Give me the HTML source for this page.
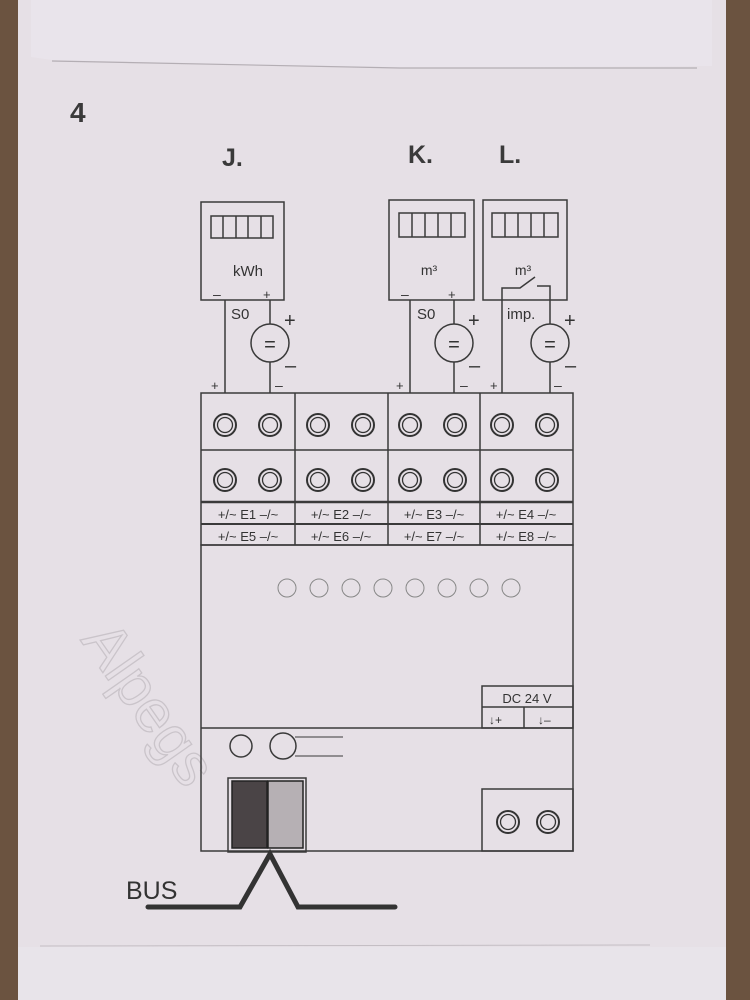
<!DOCTYPE html>
<html><head><meta charset="utf-8"><style>
html,body{margin:0;padding:0;width:750px;height:1000px;overflow:hidden;background:#6b5340}
</style></head><body>
<svg width="750" height="1000" viewBox="0 0 750 1000" xmlns="http://www.w3.org/2000/svg" font-family="Liberation Sans, sans-serif">
<rect x="0" y="0" width="750" height="1000" fill="#6b5340"/>
<rect x="18" y="0" width="710" height="1000" fill="#e6e0e6"/>
<path d="M31 0 L712 0 L712 66 L400 68 L52 60 L31 57 Z" fill="#e9e4eb"/>
<path d="M52 61 L400 68 L697 68" stroke="#b4aeb4" stroke-width="1.2" fill="none"/>
<line x1="40" y1="946" x2="650" y2="945" stroke="#c4bec4" stroke-width="1"/>
<rect x="12" y="947" width="720" height="53" fill="#e8e4ea"/>
<rect x="726" y="0" width="24" height="1000" fill="#6b5340"/>
<rect x="0" y="0" width="18" height="1000" fill="#6b5340"/>

<g fill="#3a3a3a" font-weight="bold">
<text x="70" y="122" font-size="28">4</text>
<text x="222" y="166" font-size="25">J.</text>
<text x="408" y="163" font-size="25">K.</text>
<text x="499" y="163" font-size="25">L.</text>
</g>

<text x="80" y="640" font-size="60" fill="none" stroke="#cac4ca" stroke-width="1.3" transform="rotate(55 80 640)">Alpegs</text>

<g stroke="#3a3a3a" stroke-width="1.5" fill="none">
<rect x="201" y="202" width="83" height="98"/>
<rect x="211" y="216" width="62" height="22"/>
<line x1="223" y1="216" x2="223" y2="238"/><line x1="236" y1="216" x2="236" y2="238"/><line x1="248" y1="216" x2="248" y2="238"/><line x1="261" y1="216" x2="261" y2="238"/>
<rect x="389" y="200" width="85" height="100"/>
<rect x="399" y="213" width="66" height="24"/>
<line x1="412" y1="213" x2="412" y2="237"/><line x1="425" y1="213" x2="425" y2="237"/><line x1="438" y1="213" x2="438" y2="237"/><line x1="451" y1="213" x2="451" y2="237"/>
<rect x="483" y="200" width="84" height="100"/>
<rect x="492" y="213" width="66" height="24"/>
<line x1="505" y1="213" x2="505" y2="237"/><line x1="518" y1="213" x2="518" y2="237"/><line x1="531" y1="213" x2="531" y2="237"/><line x1="544" y1="213" x2="544" y2="237"/>
<line x1="225" y1="300" x2="225" y2="393"/>
<line x1="270" y1="300" x2="270" y2="324"/><circle cx="270" cy="343" r="19"/><line x1="270" y1="362" x2="270" y2="393"/>
<line x1="410" y1="300" x2="410" y2="393"/>
<line x1="454" y1="300" x2="454" y2="324"/><circle cx="454" cy="343" r="19"/><line x1="454" y1="362" x2="454" y2="393"/>
<path d="M502 393 L502 288 L520 288 L535 277"/>
<path d="M537 286 L550 286 L550 324"/><circle cx="550" cy="343" r="19"/><line x1="550" y1="362" x2="550" y2="393"/>
<rect x="201" y="393" width="372" height="152"/>
<line x1="201" y1="450" x2="573" y2="450"/>
<line x1="201" y1="502" x2="573" y2="502" stroke-width="2.5"/>
<line x1="201" y1="524" x2="573" y2="524" stroke-width="2"/>
<line x1="295" y1="393" x2="295" y2="545"/><line x1="388" y1="393" x2="388" y2="545"/><line x1="480" y1="393" x2="480" y2="545"/>
<rect x="201" y="545" width="372" height="306"/>
<line x1="201" y1="728" x2="573" y2="728"/>
<rect x="482" y="686" width="91" height="42"/>
<line x1="482" y1="707" x2="573" y2="707"/><line x1="524" y1="707" x2="524" y2="728"/>
<rect x="482" y="789" width="91" height="62"/>
<g stroke="#888" stroke-width="1">
<circle cx="287" cy="588" r="9"/><circle cx="319" cy="588" r="9"/><circle cx="351" cy="588" r="9"/><circle cx="383" cy="588" r="9"/><circle cx="415" cy="588" r="9"/><circle cx="447" cy="588" r="9"/><circle cx="479" cy="588" r="9"/><circle cx="511" cy="588" r="9"/>
</g>
<circle cx="241" cy="746" r="11"/><circle cx="283" cy="746" r="13"/>
<line x1="295" y1="737" x2="343" y2="737" stroke-width="1"/><line x1="295" y1="756" x2="343" y2="756" stroke-width="1"/>
<rect x="228" y="778" width="78" height="74"/>
</g>
<rect x="232" y="781" width="35" height="67" fill="#4a4446" stroke="#222" stroke-width="1.5"/>
<rect x="268" y="781" width="35" height="67" fill="#b6b0b4" stroke="#222" stroke-width="1.5"/>

<g stroke="#333" stroke-width="2" fill="none">
<circle cx="225" cy="425" r="11"/><circle cx="270" cy="425" r="11"/><circle cx="318" cy="425" r="11"/><circle cx="363" cy="425" r="11"/><circle cx="410" cy="425" r="11"/><circle cx="455" cy="425" r="11"/><circle cx="502" cy="425" r="11"/><circle cx="547" cy="425" r="11"/>
<circle cx="225" cy="480" r="11"/><circle cx="270" cy="480" r="11"/><circle cx="318" cy="480" r="11"/><circle cx="363" cy="480" r="11"/><circle cx="410" cy="480" r="11"/><circle cx="455" cy="480" r="11"/><circle cx="502" cy="480" r="11"/><circle cx="547" cy="480" r="11"/>
<circle cx="508" cy="822" r="11"/><circle cx="548" cy="822" r="11"/>
</g>
<g stroke="#333" stroke-width="1.3" fill="none">
<circle cx="225" cy="425" r="7.5"/><circle cx="270" cy="425" r="7.5"/><circle cx="318" cy="425" r="7.5"/><circle cx="363" cy="425" r="7.5"/><circle cx="410" cy="425" r="7.5"/><circle cx="455" cy="425" r="7.5"/><circle cx="502" cy="425" r="7.5"/><circle cx="547" cy="425" r="7.5"/>
<circle cx="225" cy="480" r="7.5"/><circle cx="270" cy="480" r="7.5"/><circle cx="318" cy="480" r="7.5"/><circle cx="363" cy="480" r="7.5"/><circle cx="410" cy="480" r="7.5"/><circle cx="455" cy="480" r="7.5"/><circle cx="502" cy="480" r="7.5"/><circle cx="547" cy="480" r="7.5"/>
<circle cx="508" cy="822" r="7.5"/><circle cx="548" cy="822" r="7.5"/>
</g>

<path d="M148 907 L240 907 L270 854 L298 907 L395 907" stroke="#333" stroke-width="5" fill="none" stroke-linejoin="miter" stroke-linecap="round"/>

<g fill="#333">
<text x="248" y="276" font-size="15" text-anchor="middle">kWh</text>
<text x="429" y="275" font-size="14" text-anchor="middle">m³</text>
<text x="523" y="275" font-size="14" text-anchor="middle">m³</text>
<text x="231" y="319" font-size="15">S0</text>
<text x="417" y="319" font-size="15">S0</text>
<text x="507" y="319" font-size="15">imp.</text>
<text x="213" y="299" font-size="14">–</text><text x="263" y="299" font-size="13">+</text>
<text x="401" y="299" font-size="14">–</text><text x="448" y="299" font-size="13">+</text>
<text x="284" y="327" font-size="20">+</text><text x="285" y="372" font-size="20">–</text>
<text x="468" y="327" font-size="20">+</text><text x="469" y="372" font-size="20">–</text>
<text x="564" y="327" font-size="20">+</text><text x="565" y="372" font-size="20">–</text>
<text x="211" y="390" font-size="13">+</text><text x="275" y="390" font-size="14">–</text>
<text x="396" y="390" font-size="13">+</text><text x="460" y="390" font-size="14">–</text>
<text x="490" y="390" font-size="13">+</text><text x="554" y="390" font-size="14">–</text>
<text x="270" y="351" font-size="20" text-anchor="middle">=</text>
<text x="454" y="351" font-size="20" text-anchor="middle">=</text>
<text x="550" y="351" font-size="20" text-anchor="middle">=</text>
<g font-size="13" text-anchor="middle">
<text x="248" y="519">+/~ E1 –/~</text><text x="341" y="519">+/~ E2 –/~</text><text x="434" y="519">+/~ E3 –/~</text><text x="526" y="519">+/~ E4 –/~</text>
<text x="248" y="541">+/~ E5 –/~</text><text x="341" y="541">+/~ E6 –/~</text><text x="434" y="541">+/~ E7 –/~</text><text x="526" y="541">+/~ E8 –/~</text>
</g>
<text x="527" y="703" font-size="13" text-anchor="middle">DC 24 V</text>
<text x="489" y="724" font-size="12">↓+</text><text x="538" y="724" font-size="12">↓–</text>
<text x="126" y="899" font-size="25">BUS</text>
</g>
</svg>
</body></html>
